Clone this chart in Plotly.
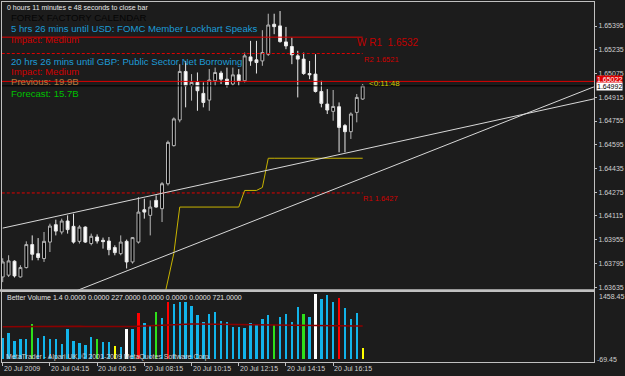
import plotly.graph_objects as go

# ---------------- data ----------------
bars = list(range(62))
opens = [1.63704, 1.63716, 1.63810, 1.63704, 1.63767, 1.63922, 1.63861, 1.63828, 1.63939, 1.64056,
         1.64007, 1.64081, 1.64045, 1.63944, 1.64040, 1.63929, 1.63973, 1.63951, 1.63946, 1.63902,
         1.63861, 1.63944, 1.63805, 1.63939, 1.64157, 1.64119, 1.64220, 1.64164, 1.64332, 1.64589,
         1.64762, 1.65089, 1.64992, 1.65015, 1.64941, 1.64896, 1.65026, 1.65078, 1.65037, 1.65004,
         1.65066, 1.65026, 1.65187, 1.65167, 1.65160, 1.65205, 1.65407, 1.65396, 1.65288, 1.65257,
         1.65194, 1.65172, 1.65075, 1.65071, 1.64954, 1.64869, 1.64820, 1.64851, 1.64724, 1.64683,
         1.64813, 1.64903]
highs = [1.63830, 1.63850, 1.63816, 1.63783, 1.63944, 1.63984, 1.63966, 1.64007, 1.64063, 1.64090,
         1.64097, 1.64119, 1.64130, 1.64052, 1.64045, 1.63996, 1.63991, 1.63969, 1.63973, 1.63917,
         1.63984, 1.63956, 1.63973, 1.64242, 1.64231, 1.64220, 1.64253, 1.64343, 1.64623, 1.64779,
         1.65138, 1.65160, 1.65071, 1.65082, 1.65015, 1.65105, 1.65115, 1.65093, 1.65115, 1.65115,
         1.65105, 1.65216, 1.65295, 1.65295, 1.65367, 1.65478, 1.65478, 1.65496, 1.65389, 1.65317,
         1.65228, 1.65216, 1.65160, 1.65205, 1.65026, 1.64970, 1.64964, 1.64880, 1.64735, 1.64813,
         1.64937, 1.65004]
lows = [1.63669, 1.63704, 1.63700, 1.63700, 1.63761, 1.63816, 1.63816, 1.63805, 1.63872, 1.63984,
        1.63991, 1.63996, 1.63929, 1.63929, 1.63933, 1.63917, 1.63929, 1.63895, 1.63850, 1.63850,
        1.63850, 1.63761, 1.63794, 1.63929, 1.64097, 1.63984, 1.64171, 1.64074, 1.64320, 1.64583,
        1.64746, 1.64847, 1.64892, 1.64824, 1.64847, 1.64824, 1.64992, 1.65004, 1.64981, 1.64992,
        1.64992, 1.65015, 1.65127, 1.65075, 1.65127, 1.65194, 1.65340, 1.65283, 1.65239, 1.65138,
        1.64914, 1.65066, 1.65037, 1.64947, 1.64847, 1.64802, 1.64757, 1.64544, 1.64544, 1.64634,
        1.64746, 1.64898]
closes = [1.63805, 1.63812, 1.63711, 1.63767, 1.63922, 1.63857, 1.63835, 1.63944, 1.64047, 1.64013,
          1.64081, 1.64023, 1.63939, 1.64040, 1.63939, 1.63978, 1.63946, 1.63942, 1.63888, 1.63868,
          1.63939, 1.63805, 1.63969, 1.64141, 1.64141, 1.64175, 1.64175, 1.64332, 1.64611, 1.64769,
          1.65089, 1.64992, 1.65015, 1.64959, 1.64880, 1.65031, 1.65082, 1.65037, 1.64999, 1.65066,
          1.65026, 1.65194, 1.65160, 1.65149, 1.65216, 1.65402, 1.65391, 1.65290, 1.65261, 1.65201,
          1.65172, 1.65075, 1.65066, 1.64954, 1.64874, 1.64829, 1.64853, 1.64712, 1.64683, 1.64802,
          1.64914, 1.64992]

volume = [454, 565, 395, 439, 439, 764, 454, 490, 439, 432,
          328, 653, 380, 344, 300, 476, 432, 366, 373, 269,
          250, 638, 638, 1007, 786, 712, 1026, 881, 1241, 1190,
          1241, 1241, 1153, 947, 799, 969, 1028, 821, 799, 697,
          697, 675, 786, 764, 874, 947, 726, 910, 984, 799,
          1130, 984, 918, 1411, 1301, 1396, 1250, 1323, 1117, 874,
          991, 227]
vol_kind = (["normal"] * 5 + ["churn"] + ["normal"] * 10 + ["churn"] + ["normal"] * 2 + ["low"]
            + ["normal"] + ["climax_dn"] + ["normal"] + ["climax_up"] + ["normal"] * 2 + ["churn"]
            + ["normal"] + ["climax_up"] + ["normal"] * 17 + ["churn"] + ["normal"] * 4 + ["churn"]
            + ["normal"] + ["climax_dn"] + ["normal"] * 3 + ["climax_up"] + ["normal"] * 3 + ["low"])
vol_ma = [700, 702, 705, 706, 708, 712, 714, 716, 718, 718,
          716, 716, 714, 712, 710, 708, 708, 706, 704, 702,
          700, 702, 706, 714, 720, 726, 734, 742, 750, 756,
          760, 762, 762, 760, 758, 756, 754, 752, 750, 748,
          746, 744, 742, 740, 738, 736, 735, 734, 732, 730,
          728, 727, 726, 725, 724, 723, 722, 722, 721, 721,
          721, 721]

yellow_bars = list(range(27, 62))
yellow_vals = [1.63500, 1.63675, 1.63863] + [1.64175] * 11 + [1.64287] * 3 + [1.64307] + [1.64504] * 17

trend_a_x = [0, 101]
trend_a_y = [1.64033, 1.64911]
trend_b_x = [0, 101]
trend_b_y = [1.63415, 1.64998]

pivot_names = ["W R1", "R2", "R1"]
pivot_vals = [1.6532, 1.6521, 1.6427]
pivot_start, pivot_end = -1, 61
ask_price = 1.65022
bid_price = 1.64992

price_ticks = [1.63635, 1.63795, 1.63955, 1.64115, 1.64275, 1.64435,
               1.64595, 1.64755, 1.64915, 1.65075, 1.65235, 1.65395]
time_tick_bars = [0, 8, 16, 24, 32, 40, 48, 56]
time_tick_labels = ["20 Jul 2009", "20 Jul 04:15", "20 Jul 06:15", "20 Jul 08:15",
                    "20 Jul 10:15", "20 Jul 12:15", "20 Jul 14:15", "20 Jul 16:15"]
vol_min, vol_max = -69.45, 1458.45

calendar_lines = [
    ("FOREX FACTORY CALENDAR", "#050505"),
    ("5 hrs 26 mins until USD: FOMC Member Lockhart Speaks", "#1c9bd6"),
    ("Impact: Medium", "#d00000"),
    ("20 hrs 26 mins until GBP: Public Sector Net Borrowing", "#1c9bd6"),
    ("Impact: Medium", "#d00000"),
    ("Previous: 19.9B", "#b8783c"),
    ("Forecast: 15.7B", "#00c000"),
]

# ---------------- styling helpers ----------------
W, H = 625, 376
ML, MR, MT, MB = 2, 28, 1, 14
BG = "#1c1c1c"
GRAY = "#c0c0c0"
FONT = "Liberation Sans"
kind_color = {"normal": "#12b4ea", "churn": "#2ee01a", "low": "#ffff00",
              "climax_up": "#ff0000", "climax_dn": "#ffffff"}


def py(p):  # page pixel y -> paper
    return (H - MB - p) / (H - MT - MB)


def px(p):  # page pixel x -> paper
    return (p - ML) / (W - ML - MR)


fig = go.Figure()

# candles
fig.add_trace(go.Candlestick(
    x=bars, open=opens, high=highs, low=lows, close=closes,
    xaxis="x", yaxis="y", whiskerwidth=0,
    increasing=dict(line=dict(color="#b8b8b8", width=1), fillcolor="#000000"),
    decreasing=dict(line=dict(color="#e8e8e8", width=1), fillcolor="#ffffff"),
    hoverinfo="skip", showlegend=False))

# pivot lines
for name, val in zip(pivot_names, pivot_vals):
    fig.add_trace(go.Scatter(x=[pivot_start, pivot_end], y=[val, val], mode="lines",
                             line=dict(color="#e00000", width=1,
                                       dash="solid" if name == "W R1" else "3px,2px"),
                             xaxis="x", yaxis="y", hoverinfo="skip", showlegend=False))

# yellow step indicator
fig.add_trace(go.Scatter(x=yellow_bars, y=yellow_vals, mode="lines",
                         line=dict(color="#c8b400", width=1),
                         xaxis="x", yaxis="y", hoverinfo="skip", showlegend=False))

# trend lines
for tx, ty in [(trend_a_x, trend_a_y), (trend_b_x, trend_b_y)]:
    fig.add_trace(go.Scatter(x=tx, y=ty, mode="lines", line=dict(color="#d8d8d8", width=1),
                             xaxis="x", yaxis="y", hoverinfo="skip", showlegend=False))

# volume
fig.add_trace(go.Bar(x=bars, y=volume, marker=dict(color=[kind_color[k] for k in vol_kind],
                                                   line=dict(width=0)),
                     width=0.4, xaxis="x2", yaxis="y2", hoverinfo="skip", showlegend=False))
fig.add_trace(go.Scatter(x=bars, y=vol_ma, mode="lines", line=dict(color="#8b0000", width=1.5),
                         xaxis="x2", yaxis="y2", hoverinfo="skip", showlegend=False))

xr = [-0.12, 100.2]
main_range = [1.63618, 1.65557]

shapes = [
    dict(type="line", xref="paper", yref="y", x0=0, x1=1, y0=ask_price, y1=ask_price,
         line=dict(color="#e00000", width=1)),
    dict(type="line", xref="paper", yref="y", x0=0, x1=1, y0=bid_price, y1=bid_price,
         line=dict(color="#000000", width=1)),
    dict(type="rect", xref="paper", yref="paper", x0=px(0), x1=px(598), y0=py(291.6), y1=py(289),
         fillcolor=GRAY, line=dict(width=0)),
]

ann = []
ann.append(dict(text="0 hours 11 minutes e 48 seconds to close bar", xref="paper", yref="paper",
                x=px(5), y=py(6.5), xanchor="left", yanchor="middle", showarrow=False,
                font=dict(family=FONT, size=7, color="#e8e8e8")))
cal_y = [16.3, 27.7, 38.3, 60.7, 71, 81, 92.7]
for (txt, col), yy in zip(calendar_lines, cal_y):
    ann.append(dict(text=txt, xref="paper", yref="paper", x=px(9), y=py(yy), xanchor="left",
                    yanchor="middle", showarrow=False, font=dict(family=FONT, size=9.6, color=col)))

ann.append(dict(text="W R1  " + f"{pivot_vals[0]:.4f}", xref="x", yref="y", x=59.7, y=1.65281,
                xanchor="left", yanchor="middle", showarrow=False,
                font=dict(family=FONT, size=10, color="#c00000")))
ann.append(dict(text="R2 " + f"{pivot_vals[1]:.4f}", xref="x", yref="y", x=60.8, y=1.65167,
                xanchor="left", yanchor="middle", showarrow=False,
                font=dict(family=FONT, size=7.5, color="#d00000")))
ann.append(dict(text="R1 " + f"{pivot_vals[2]:.4f}", xref="x", yref="y", x=60.7, y=1.64235,
                xanchor="left", yanchor="middle", showarrow=False,
                font=dict(family=FONT, size=7.5, color="#d00000")))
ann.append(dict(text="&lt;0:11:48", xref="x", yref="y", x=61.8, y=1.65007,
                xanchor="left", yanchor="middle", showarrow=False,
                font=dict(family=FONT, size=8, color="#cccc00")))

# price boxes on axis
ann.append(dict(text=f"{ask_price:.5f}", xref="paper", yref="paper", x=px(599), y=py(79),
                xanchor="left", yanchor="middle", showarrow=False, bgcolor="#e00000",
                borderpad=0, font=dict(family=FONT, size=7, color="#ffffff")))
ann.append(dict(text=f"{bid_price:.5f}", xref="paper", yref="paper", x=px(599), y=py(85.5),
                xanchor="left", yanchor="middle", showarrow=False, bgcolor="#ffffff",
                borderpad=0, font=dict(family=FONT, size=7, color="#000000")))

# indicator texts
vol_label = "Better Volume 1.4 0.0000 0.0000 %.4f 0.0000 0.0000 0.0000 %.4f" % (volume[-1], vol_ma[-1])
ann.append(dict(text=vol_label, xref="paper", yref="paper", x=px(5), y=py(297.7), xanchor="left",
                yanchor="middle", showarrow=False, font=dict(family=FONT, size=7, color="#e0e0e0")))
ann.append(dict(text="MetaTrader - Alpari UK, © 2001-2009 MetaQuotes Software Corp.", xref="paper",
                yref="paper", x=px(4), y=py(357.3), xanchor="left", yanchor="middle", showarrow=False,
                font=dict(family=FONT, size=7, color="#d0d0d0")))
ann.append(dict(text=f"{vol_max:.2f}", xref="paper", yref="paper", x=px(600), y=py(296),
                xanchor="left", yanchor="middle", showarrow=False,
                font=dict(family=FONT, size=7, color="#d0d0d0")))
ann.append(dict(text=f"{vol_min:.2f}", xref="paper", yref="paper", x=px(598), y=py(359),
                xanchor="left", yanchor="middle", showarrow=False,
                font=dict(family=FONT, size=7, color="#d0d0d0")))

# time labels
for b, lab in zip(time_tick_bars, time_tick_labels):
    ann.append(dict(text=lab, xref="x2", yref="paper", x=b, y=py(368.5), xanchor="left",
                    yanchor="middle", showarrow=False, xshift=-1,
                    font=dict(family=FONT, size=7, color="#d0d0d0")))

axis_common = dict(showgrid=False, zeroline=False, showline=True, linecolor=GRAY, linewidth=1,
                   mirror=True)

fig.update_layout(
    width=W, height=H, margin=dict(l=ML, r=MR, t=MT, b=MB),
    paper_bgcolor=BG, plot_bgcolor=BG, showlegend=False,
    xaxis=dict(domain=[0, 1], anchor="y", range=xr, showticklabels=False, ticks="",
               rangeslider=dict(visible=False), **axis_common),
    xaxis2=dict(domain=[0, 1], anchor="y2", range=xr, tickvals=time_tick_bars,
                showticklabels=False, ticks="outside", ticklen=3, tickcolor=GRAY,
                rangeslider=dict(visible=False), **axis_common),
    yaxis=dict(domain=[py(289.5), 1], anchor="x", side="right", range=main_range,
               tickvals=price_ticks, ticktext=[f"{v:.5f}" for v in price_ticks],
               ticks="outside", ticklen=2, tickcolor=GRAY,
               tickfont=dict(family=FONT, size=7, color="#d0d0d0"), **axis_common),
    yaxis2=dict(domain=[0, py(292)], anchor="x2", side="right", range=[vol_min, vol_max],
                showticklabels=False, ticks="", **axis_common),
    shapes=shapes, annotations=ann, bargap=0,
)

fig.write_html("out.html")
